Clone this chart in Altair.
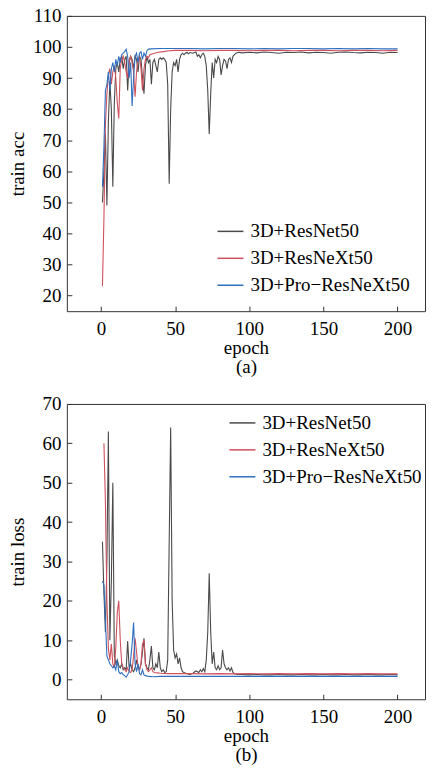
import altair as alt
import pandas as pd

SERIES = ["3D+ResNet50", "3D+ResNeXt50", "3D+Pro\u2212ResNeXt50"]
COLORS = ["#4a4a4a", "#d0505c", "#2f6fbf"]

# ---------------- (a) train acc ----------------
acc_black_epoch = list(range(1, 61)) + [62, 64] + list(range(65, 92)) + [93, 95] + list(range(100, 201, 5))
acc_black = [
    50, 60, 72, 49, 76, 89, 80, 55, 82, 93,
    95, 92, 96, 97, 93, 96, 97, 86, 95, 97,
    96, 93, 97, 96, 92, 97, 96, 90, 85, 94,
    97, 95, 96, 88, 95, 96, 94, 92, 96, 96.5,
    96, 96.5, 96, 95, 88, 56, 80, 92, 95, 94,
    96, 92, 96, 97.5, 98, 97.5, 98, 98.3, 97.8, 98.2,
    98, 98.4, 97, 97.5, 96.5, 97.5, 98, 97, 94, 86,
    72, 85, 95, 90, 96, 95, 97, 96, 91, 94,
    96, 95.5, 93, 96, 96.5, 95, 97, 97.5, 98,
    98.3, 98.1,
    98.3, 98.1, 98.4, 98.2, 98.0, 98.3, 98.2, 98.4, 98.1, 98.3, 98.2,
    98.0, 98.3, 98.4, 98.2, 98.1, 98.3, 98.2, 98.0, 98.3, 98.2,
]

acc_red_epoch = list(range(1, 34)) + [35, 38, 42, 46, 50] + list(range(60, 201, 10))
acc_red = [
    23, 45, 75, 85, 91, 93, 88, 92, 94, 90,
    82, 77, 93, 96, 97, 95, 92, 90, 96, 97,
    95, 92, 84, 92, 96, 97, 93, 86, 93, 96,
    97, 96.5, 97.5,
    97.8, 98.2, 98.5, 98.8, 98.9,
    98.9, 98.8, 98.9, 98.9, 98.8, 98.9, 98.9, 98.8, 98.9, 98.9,
    98.8, 98.9, 98.9, 98.8, 98.9,
]

acc_blue_epoch = list(range(1, 33)) + [34, 40, 50] + list(range(60, 201, 10))
acc_blue = [
    55, 68, 86, 88, 92, 86, 93, 95, 92, 96,
    94, 97, 95, 97.5, 98, 98.5, 99.3, 97, 90, 95,
    81, 90, 97, 98, 95, 98, 98.5, 96, 98, 97,
    98.8, 99.3,
    99.4, 99.5, 99.5,
    99.5, 99.4, 99.5, 99.5, 99.4, 99.5, 99.4, 99.5, 99.5, 99.4,
    99.5, 99.4, 99.5, 99.4, 99.4,
]

# ---------------- (b) train loss ----------------
loss_black_epoch = list(range(1, 57)) + [58, 60, 62, 64] + list(range(66, 93)) + [95] + list(range(100, 201, 5))
loss_black = [
    35, 22, 12, 30, 63, 10, 25, 50, 6, 4,
    5, 3.5, 3, 4, 2.5, 3, 2.5, 9.8, 3, 4,
    2.5, 2, 3, 5, 3, 2.5, 4, 7, 10.5, 4,
    3, 2.5, 5, 8.5, 3, 2.5, 4, 3, 7, 3,
    2, 2.5, 1.8, 2, 5, 35, 64, 20, 7.5, 5.5,
    6.5, 4, 5.5, 3, 2, 1.8,
    1.5, 1.3, 1.6, 2.2,
    1.8, 2.5, 2, 2.8, 2, 5, 12, 27, 12, 4,
    7, 3, 2.5, 3.5, 2.5, 3, 7.5, 4, 3, 2.5,
    3, 2.2, 3, 1.8, 1.5, 1.4, 1.3,
    1.3,
    1.2, 1.3, 1.2, 1.2, 1.3, 1.2, 1.2, 1.3, 1.2, 1.2, 1.3,
    1.2, 1.2, 1.3, 1.2, 1.2, 1.3, 1.2, 1.2, 1.3, 1.2,
]

loss_red_epoch = list(range(2, 37)) + [38, 40, 45, 50] + list(range(60, 201, 10))
loss_red = [
    60, 45, 20, 8, 5, 9, 4, 3, 8, 17,
    20, 10, 4, 3, 2.5, 2, 3, 2, 1.8, 2.5,
    6, 10.5, 7, 3, 2.5, 4, 9, 10, 4, 2.5,
    2, 2.5, 3, 2, 1.8,
    1.7, 1.6, 1.5, 1.5,
    1.5, 1.45, 1.5, 1.45, 1.5, 1.45, 1.5, 1.45, 1.5, 1.45,
    1.5, 1.45, 1.5, 1.45, 1.45,
]

loss_blue_epoch = list(range(1, 31)) + [32, 35, 40, 50] + list(range(60, 201, 10))
loss_blue = [
    25, 24, 15, 6, 5, 4, 3.5, 3, 3.5, 2.5,
    5, 2, 1.5, 1.8, 1.2, 1, 0.6, 1.2, 2, 5,
    9, 14.5, 4, 2, 4, 1.5, 1.2, 2.5, 1.2, 1,
    0.8, 0.7, 0.8, 0.8,
    0.8, 0.8, 0.85, 0.8, 0.8, 0.85, 0.8, 0.8, 0.85, 0.8,
    0.8, 0.85, 0.8, 0.8, 0.8,
]

X_TICKS = [0, 50, 100, 150, 200]
ACC_TICKS = [20, 30, 40, 50, 60, 70, 80, 90, 100, 110]
LOSS_TICKS = [0, 10, 20, 30, 40, 50, 60, 70]


def frame(parts):
    rows = []
    for name, ep, vals in parts:
        assert len(ep) == len(vals), (name, len(ep), len(vals))
        for i, (e, v) in enumerate(zip(ep, vals)):
            rows.append({"epoch": e, "value": v, "series": name, "order": i})
    return pd.DataFrame(rows)


acc_df = frame([
    (SERIES[0], acc_black_epoch, acc_black),
    (SERIES[1], acc_red_epoch, acc_red),
    (SERIES[2], acc_blue_epoch, acc_blue),
])
loss_df = frame([
    (SERIES[0], loss_black_epoch, loss_black),
    (SERIES[1], loss_red_epoch, loss_red),
    (SERIES[2], loss_blue_epoch, loss_blue),
])

W, H = 359, 296
FONT = "Liberation Serif"


def panel(df, ytitle, ydomain, yticks, sub, lx, ly):
    return alt.Chart(df).mark_line(strokeWidth=1.1, clip=True).encode(
        x=alt.X("epoch:Q",
                scale=alt.Scale(domain=[-23, 218.5], nice=False, zero=False),
                axis=alt.Axis(values=X_TICKS, title=["epoch", sub],
                              labelPadding=8, titlePadding=0.5, titleLineHeight=19)),
        y=alt.Y("value:Q",
                scale=alt.Scale(domain=ydomain, nice=False, zero=False),
                axis=alt.Axis(values=yticks, title=ytitle, labelPadding=6,
                              titleX=-54.5, titleY=H / 2, titleAngle=270,
                              titleBaseline="middle")),
        color=alt.Color("series:N",
                        scale=alt.Scale(domain=SERIES, range=COLORS),
                        title=None,
                        legend=alt.Legend(orient="none", legendX=lx, legendY=ly,
                                          symbolType="stroke", symbolSize=676,
                                          symbolStrokeWidth=1.5, labelFont=FONT,
                                          labelFontSize=19, labelColor="black",
                                          labelOffset=6, rowPadding=3, padding=0,
                                          labelLimit=300)),
        order="order:Q",
        detail="series:N",
    ).properties(width=W, height=H)


top = panel(acc_df, "train acc", [15, 110], ACC_TICKS, "(a)", 150, 202)
bottom = panel(loss_df, "train loss", [-5, 70], LOSS_TICKS, "(b)", 162, 5)

chart = alt.vconcat(top, bottom, spacing=17).resolve_scale(color="independent").resolve_legend(
    color="independent"
).properties(
    padding={"left": 0, "right": 0, "top": -3, "bottom": 0},
    background="white",
).configure_view(stroke="#333", strokeWidth=1).configure_axis(
    grid=False, domain=False, offset=-5, tickSize=5, tickColor="#333",
    labelFont=FONT, labelFontSize=19, labelColor="black",
    titleFont=FONT, titleFontSize=19, titleFontWeight="normal", titleColor="black",
)

chart.save("out.html", embed_options={"renderer": "svg", "actions": False})
